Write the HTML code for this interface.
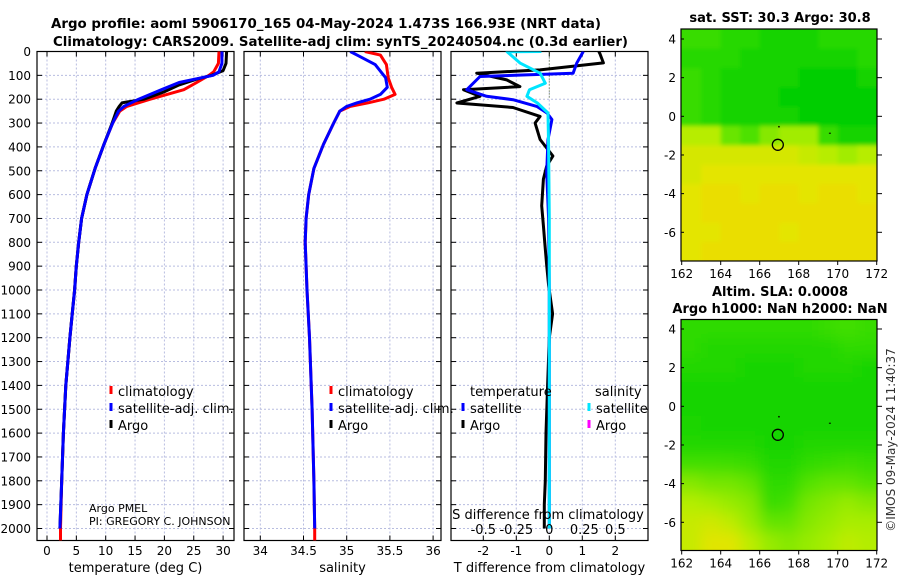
<!DOCTYPE html>
<html><head><meta charset="utf-8"><style>
html,body{margin:0;padding:0;background:#fff}
svg{display:block;font-family:"DejaVu Sans","Liberation Sans",sans-serif}
</style></head><body>
<svg id="c" width="900" height="580" viewBox="0 0 900 580" xmlns="http://www.w3.org/2000/svg">
<defs>
<clipPath id="cp1"><rect x="37" y="51.5" width="197" height="489"/></clipPath>
<clipPath id="cp2"><rect x="244" y="51.5" width="197" height="489"/></clipPath>
<clipPath id="cp3"><rect x="451" y="51.5" width="197" height="489"/></clipPath>
<clipPath id="cm1"><rect x="681" y="29" width="196" height="232"/></clipPath>
<clipPath id="cm2"><rect x="681" y="319.5" width="196" height="231"/></clipPath>
<filter id="bl" x="-5%" y="-5%" width="110%" height="110%"><feGaussianBlur stdDeviation="7"/></filter>
<filter id="bl2" x="-5%" y="-5%" width="110%" height="110%"><feGaussianBlur stdDeviation="2"/></filter>
</defs>
<text x="51" y="28" textLength="550" lengthAdjust="spacingAndGlyphs" font-size="13" font-weight="bold">Argo profile: aoml 5906170_165 04-May-2024 1.473S 166.93E (NRT data)</text>
<text x="53" y="46" textLength="575" lengthAdjust="spacingAndGlyphs" font-size="13" font-weight="bold">Climatology: CARS2009. Satellite-adj clim: synTS_20240504.nc (0.3d earlier)</text>
<text x="780" y="22" text-anchor="middle" font-size="13" font-weight="bold">sat. SST: 30.3 Argo: 30.8</text>
<text x="780" y="296" text-anchor="middle" font-size="13" font-weight="bold">Altim. SLA: 0.0008</text>
<text x="780" y="313" text-anchor="middle" font-size="13" font-weight="bold">Argo h1000: NaN h2000: NaN</text>
<text transform="translate(895,440) rotate(-90)" text-anchor="middle" font-size="12" fill="#333">©IMOS 09-May-2024 11:40:37</text>
<g id="g"></g>
</svg>
<script>
// ---- profile data ----
const argoTDepth=[0,50,80,100,115,140,170,200,215,230,250,300,390,490,600,700,800,900,1000,1100,1200,1400,1600,1800,2000];
const argoTemp=[30.6,30.5,30.0,28.1,25.6,22.5,19.9,16.5,12.8,12.3,11.8,11.1,9.7,8.2,6.8,5.9,5.4,5.0,4.7,4.3,3.9,3.2,2.8,2.5,2.2];
const climDepth=[0,50,85,100,130,160,200,230,250,300,390,490,600,700,800,900,1000,1200,1400,1600,1800,2000,2050];
const climTemp=[29.3,29.2,28.4,27.6,25.5,23.3,17.6,13.6,12.4,11.2,9.7,8.2,6.8,5.9,5.4,5.0,4.7,3.9,3.2,2.8,2.5,2.3,2.3];
const satTDepth=[0,50,85,100,130,160,200,230,250,300,390,490,600,700,800,900,1000,1200,1400,1600,1800,2000];
const satTemp=[29.8,29.8,29.3,28.3,22.5,19.5,15.6,13.1,12.2,11.2,9.7,8.2,6.8,5.9,5.4,5.0,4.7,3.9,3.2,2.8,2.5,2.2];
const salDepth=[0,15,55,110,150,180,200,215,230,250,300,390,490,600,700,800,1000,1200,1500,1800,2000,2050];
const climSal=[35.21,35.39,35.46,35.48,35.52,35.56,35.43,35.25,35.04,34.92,34.85,34.73,34.62,34.56,34.53,34.52,34.54,34.57,34.6,34.62,34.63,34.63];
const satSal=[35.04,35.12,35.33,35.45,35.47,35.39,35.27,35.12,35.0,34.92,34.85,34.73,34.62,34.56,34.53,34.52,34.54,34.57,34.6,34.62,34.63];
const argoDTDepth=[0,8,48,77,91,119,147,160,188,216,235,272,300,369,438,480,535,647,730,813,897,980,1100,1200,1400,1600,1800,1900,2000];
const argoDT=[1.5,1.53,1.64,-0.28,-2.2,-1.29,-0.89,-2.6,-2.1,-2.8,-1.1,-0.28,-0.43,-0.28,0.11,-0.08,-0.18,-0.23,-0.18,-0.13,-0.08,-0.02,0.1,0.0,-0.05,-0.1,-0.12,-0.15,-0.15];
const satDTDepth=[0,49,91,105,160,188,202,230,258,285,369,507,700,1000,1500,2000];
const satDT=[1.03,0.83,0.72,-2.1,-2.5,-1.9,-1.1,-0.38,-0.07,0.08,-0.04,-0.08,-0.02,0.0,0.0,0.0];
const satDSDepth=[0,1,49,91,133,160,188,216,258,400,700,1000,1500,2000];
const satDS=[-0.06,-0.32,-0.22,-0.07,-0.03,-0.15,-0.17,-0.09,-0.01,-0.005,0,0,0,0];
const depthTicks=[0,100,200,300,400,500,600,700,800,900,1000,1100,1200,1300,1400,1500,1600,1700,1800,1900,2000];
const tempTicks=[0,5,10,15,20,25,30];
const salTicks=[34,34.5,35,35.5,36];
const dTTicks=[-2,-1,0,1,2];
const dSTicks=[-0.5,-0.25,0,0.25,0.5];
const dSTickLabels=["-0.5","-0.25","0","0.25","0.5"];
// ---- map data ----
const mapLats=[4,3,2,1,0,-1,-2,-3,-4,-5,-6,-7];
const mapLons=[162.5,163.5,164.5,165.5,166.5,167.5,168.5,169.5,170.5,171.5];
const sstRows=[
[30.3,30.3,30.4,30.4,30.5,30.5,30.5,30.4,30.4,30.4],
[30.4,30.4,30.4,30.5,30.5,30.5,30.5,30.5,30.5,30.4],
[30.3,30.4,30.5,30.5,30.5,30.5,30.6,30.6,30.6,30.5],
[30.3,30.4,30.5,30.5,30.5,30.6,30.6,30.6,30.6,30.6],
[30.3,30.4,30.5,30.5,30.5,30.5,30.6,30.6,30.6,30.6],
[29.8,29.8,30.1,30.2,30.0,29.9,29.9,30.3,30.5,30.5],
[29.6,29.6,29.6,29.6,29.6,29.6,29.7,29.8,29.9,29.8],
[29.6,29.5,29.5,29.5,29.5,29.5,29.5,29.5,29.5,29.5],
[29.5,29.4,29.4,29.5,29.4,29.4,29.5,29.4,29.4,29.5],
[29.5,29.4,29.4,29.4,29.4,29.4,29.4,29.4,29.4,29.4],
[29.5,29.5,29.4,29.4,29.4,29.5,29.4,29.4,29.4,29.4],
[29.5,29.4,29.4,29.4,29.4,29.4,29.4,29.4,29.4,29.4]];
const slaRows=[
[0.8,0.8,0.8,0.8,0.8,0.8,0.8,0.75,0.7,0.75],
[0.8,0.85,0.85,0.85,0.85,0.85,0.85,0.85,0.8,0.8],
[0.85,0.85,0.85,0.9,0.9,0.9,0.85,0.85,0.85,0.9],
[0.9,0.9,0.9,0.9,0.9,0.9,0.9,0.9,0.9,0.9],
[0.9,0.9,0.9,0.9,0.9,0.9,0.9,0.9,0.9,0.9],
[0.88,0.9,0.9,0.9,0.9,0.9,0.9,0.9,0.9,0.9],
[0.85,0.85,0.85,0.85,0.9,0.9,0.85,0.85,0.85,0.85],
[0.7,0.7,0.72,0.75,0.85,0.85,0.78,0.75,0.72,0.75],
[0.5,0.55,0.55,0.6,0.8,0.8,0.65,0.6,0.6,0.65],
[0.35,0.4,0.45,0.5,0.75,0.7,0.55,0.5,0.45,0.5],
[0.25,0.2,0.3,0.45,0.6,0.6,0.5,0.45,0.4,0.4],
[0.25,0.1,0.1,0.3,0.45,0.5,0.45,0.4,0.3,0.35]];
const floatLon=166.93, floatLat=-1.473;
const mapLatTicks=[4,2,0,-2,-4,-6];
const mapLonTicks=[162,164,166,168,170,172];

const NS="http://www.w3.org/2000/svg";
const G=document.getElementById('g');
function mk(tag,attrs,parent){const e=document.createElementNS(NS,tag);for(const k in attrs)e.setAttribute(k,attrs[k]);(parent||G).appendChild(e);return e;}
const yD=d=>51.5+d*0.2385;
const xT=t=>47+t*5.87;
const xS=s=>260.3+(s-34)*86.4;
const xDT=v=>549.3+v*33;
const xDS=v=>549.3+v*132;
const panels=[{x:37,cp:'cp1',ticks:tempTicks,f:xT,lab:tempTicks.map(String),title:'temperature (deg C)',name:'temperature'},
{x:244,cp:'cp2',ticks:salTicks,f:xS,lab:salTicks.map(String),title:'salinity',name:'salinity'},
{x:451,cp:'cp3',ticks:dTTicks,f:xDT,lab:dTTicks.map(String),title:'T difference from climatology',name:'difference'}];
const PW=197,PT=51.5,PB=540.5;
panels.forEach((p,i)=>{
  const g=mk('g',{});
  
  
  depthTicks.forEach(d=>{const l=mk('line',{x1:p.x,x2:p.x+PW,y1:yD(d),y2:yD(d),stroke:'#b8bde0','stroke-width':1,'stroke-dasharray':'2,2'},g);
    
    mk('line',{x1:p.x,x2:p.x+5,y1:yD(d),y2:yD(d),stroke:'#000'},g);
    mk('line',{x1:p.x+PW-5,x2:p.x+PW,y1:yD(d),y2:yD(d),stroke:'#000'},g);
    if(i===0){const t=mk('text',{x:31,y:yD(d)+4.5,'text-anchor':'end','font-size':12},g);t.textContent=d;
      }
  });
  p.ticks.forEach((v,j)=>{const x=p.f(v);
    const l=mk('line',{x1:x,x2:x,y1:PT,y2:PB,stroke:'#b8bde0','stroke-width':1,'stroke-dasharray':'2,2'},g);
    
    mk('line',{x1:x,x2:x,y1:PB-5,y2:PB,stroke:'#000'},g);mk('line',{x1:x,x2:x,y1:PT,y2:PT+5,stroke:'#000'},g);
    const t=mk('text',{x:x,y:555,'text-anchor':'middle','font-size':12},g);t.textContent=p.lab[j];
    
  });
  const r=mk('rect',{x:p.x,y:PT,width:PW,height:PB-PT,fill:'none',stroke:'#000','stroke-width':1.2},g);
  
  const tt=mk('text',{x:p.x+PW/2,y:572,'text-anchor':'middle','font-size':13},g);tt.textContent=p.title;
  
});
const zl=mk('line',{x1:xDT(0),x2:xDT(0),y1:PT,y2:yD(200),stroke:'#556b2f','stroke-width':1,'stroke-dasharray':'1,2'});

function series(cp,ds,vs,fx,color,w,name){
  const pts=ds.map((d,k)=>fx(vs[k]).toFixed(1)+','+yD(d).toFixed(1)).join(' ');
  const e=mk('polyline',{points:pts,fill:'none',stroke:color,'stroke-width':w,'stroke-linejoin':'round','clip-path':'url(#'+cp+')'});
  
  
}
series('cp1',climDepth,climTemp,xT,'#ff0000',3,'climatology-temperature-line');
series('cp1',argoTDepth,argoTemp,xT,'#000000',3,'argo-temperature-line');
series('cp1',satTDepth,satTemp,xT,'#0000ff',3,'satellite-temperature-line');
series('cp2',salDepth,climSal,xS,'#ff0000',3,'climatology-salinity-line');
series('cp2',salDepth.slice(0,satSal.length),satSal,xS,'#0000ff',3,'satellite-salinity-line');
series('cp3',argoDTDepth,argoDT,xDT,'#000000',3,'argo-temperature-difference-line');
series('cp3',satDTDepth,satDT,xDT,'#0000ff',3,'satellite-temperature-difference-line');
series('cp3',satDSDepth,satDS,xDS,'#00e5ff',3,'satellite-salinity-difference-line');
const sdt=mk('text',{x:548,y:519,'text-anchor':'middle','font-size':13});sdt.textContent='S difference from climatology';

dSTicks.forEach((v,j)=>{const t=mk('text',{x:xDS(v)-(j===3?-2:0),y:534,'text-anchor':'middle','font-size':13});t.textContent=dSTickLabels[j];
  });
function leg(x,y,color,label,name){
  if(color){const b=mk('line',{x1:x,x2:x,y1:y-10,y2:y-2,stroke:color,'stroke-width':3});}
  const t=mk('text',{x:x+7,y:y,'font-size':13});t.textContent=label;
}
leg(111,396,'#ff0000','climatology','legend-climatology');
leg(111,413,'#0000ff','satellite-adj. clim.','legend-satellite-adj');
leg(111,430,'#000','Argo','legend-argo');
leg(331,396,'#ff0000','climatology','legend-climatology-sal');
leg(331,413,'#0000ff','satellite-adj. clim.','legend-satellite-adj-sal');
leg(331,430,'#000','Argo','legend-argo-sal');
leg(463,396,null,'temperature','legend-temperature-heading');
leg(588,396,null,'salinity','legend-salinity-heading');
leg(463,413,'#0000ff','satellite','legend-satellite-t');
leg(463,430,'#000','Argo','legend-argo-t');
leg(589,413,'#00e5ff','satellite','legend-satellite-s');
leg(589,430,'#ff00ff','Argo','legend-argo-s');
const pm=mk('text',{x:89,y:512,'font-size':11});pm.textContent='Argo PMEL';
const pi=mk('text',{x:89,y:525,'font-size':11});pi.textContent='PI: GREGORY C. JOHNSON';
function cmap(v){v=Math.max(0,Math.min(1,v));
  const st=[[0,[242,200,0]],[0.25,[232,228,0]],[0.5,[176,238,0]],[0.75,[70,224,0]],[1,[0,206,0]]];
  for(let i=1;i<st.length;i++){if(v<=st[i][0]){const a=st[i-1],b=st[i],t=(v-a[0])/(b[0]-a[0]);
    return 'rgb('+a[1].map((c,k)=>Math.round(c+(b[1][k]-c)*t)).join(',')+')';}}
  return 'rgb(0,206,0)';}
function drawMap(m){
  const xL=lon=>681.7+(lon-162)*19.5;
  const yL=lat=>m.y4+(4-lat)*m.ppd;
  const g=mk('g',{'clip-path':'url(#'+m.cp+')'});
  
  mk('rect',{x:681,y:m.top,width:196,height:m.bot-m.top,fill:cmap(m.norm(m.rows[6][5]))},g);
  const inner=mk('g',{filter:'url(#'+m.f+')'},g);
  mapLats.forEach((lat,r)=>mapLons.forEach((lon,c)=>{
    const cell=mk('rect',{x:xL(lon-0.5)-(c===0?15:0),y:yL(lat+0.5)-(r===0?15:0),width:19.5+1+(c===0||c===9?15:0),height:m.ppd+1+(r===0||r===11?15:0),fill:cmap(m.norm(m.rows[r][c]))},inner);
    
    
  }));
  const fc=mk('circle',{cx:xL(floatLon),cy:yL(floatLat),r:5.5,fill:'none',stroke:'#000','stroke-width':1.3},g);
  
  mk('rect',{x:xL(167)-1,y:yL(-0.55)-1,width:1.5,height:1.5,fill:'#000'},g);
  mk('rect',{x:xL(169.6)-1,y:yL(-0.9)-1,width:2,height:1,fill:'#000'},g);
  const fr=mk('rect',{x:681,y:m.top,width:196,height:m.bot-m.top,fill:'none',stroke:'#000','stroke-width':1.2});
  
  mapLatTicks.forEach(lat=>{const y=yL(lat);mk('line',{x1:877,x2:882,y1:y,y2:y,stroke:'#000'});mk('line',{x1:681,x2:684,y1:y,y2:y,stroke:'#000'});
    const t=mk('text',{x:676,y:y+4.5,'text-anchor':'end','font-size':12});t.textContent=lat;
    });
  mapLonTicks.forEach(lon=>{const x=xL(lon);mk('line',{x1:x,x2:x,y1:m.bot,y2:m.bot+4,stroke:'#000'});
    const t=mk('text',{x:x,y:m.bot+17,'text-anchor':'middle','font-size':12});t.textContent=lon;
    });
}
drawMap({cp:'cm1',top:29,bot:261,y4:39,ppd:19.33,rows:sstRows,norm:v=>(v-29.1)/1.5,f:'bl2',name:'sst-map'});
drawMap({cp:'cm2',top:319.5,bot:550.5,y4:329,ppd:19.33,rows:slaRows,norm:v=>0.2+0.8*v,f:'bl',name:'sla-map'});
</script>
</body></html>
